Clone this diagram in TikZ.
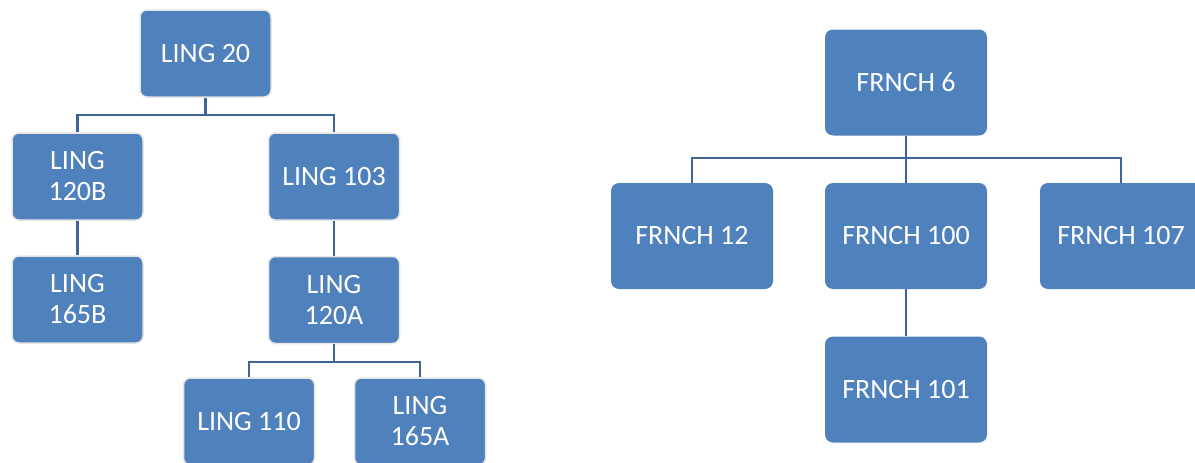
\documentclass[tikz,border=0pt]{standalone}
\usepackage{fontspec}
\setmainfont{Carlito}
\definecolor{boxblue}{RGB}{79,129,189}
\definecolor{linkblue}{RGB}{62,101,150}
\begin{document}
\begin{tikzpicture}[x=1pt,y=-1pt,
  lbox/.style={fill=boxblue, draw=gray!20, line width=1.5pt, rounded corners=7pt,
    minimum width=131pt, minimum height=87pt, text=white, align=center,
    font=\fontsize{28}{31}\selectfont, inner sep=0pt},
  rbox/.style={fill=boxblue, draw=none, rounded corners=8pt,
    minimum width=162pt, minimum height=106pt, text=white, align=center,
    font=\fontsize{28}{31}\selectfont, inner sep=0pt},
  link/.style={draw=linkblue, line width=2.6pt}]
\useasboundingbox (0,0) rectangle (1195,463);
\clip (0,0) rectangle (1195,463);
% left tree
\node[lbox] (l20)   at (205.5,53.5) {LING 20};
\node[lbox] (l120b) at (77.5,176.5) {LING\\120B};
\node[lbox] (l103)  at (334,176.5) {LING 103};
\node[lbox] (l165b) at (77.5,299.5) {LING\\165B};
\node[lbox] (l120a) at (334,300) {LING\\120A};
\node[lbox] (l110)  at (249,421.5) {LING 110};
\node[lbox] (l165a) at (420,421.5) {LING\\165A};
\coordinate (j1) at (205.5,115);
\coordinate (j2) at (334,362);
\draw[link] (l20.south) -- (j1);
\draw[link] (j1) -| (l120b.north);
\draw[link] (j1) -| (l103.north);
\draw[link] (l120b.south) -- (l165b.north);
\draw[link] (l103.south) -- (l120a.north);
\draw[link] (l120a.south) -- (j2);
\draw[link] (j2) -| (l110.north);
\draw[link] (j2) -| (l165a.north);
% right tree
\node[rbox] (f6)   at (906,82.5) {FRNCH 6};
\node[rbox] (f12)  at (692,236) {FRNCH 12};
\node[rbox] (f100) at (906,236) {FRNCH 100};
\node[rbox] (f107) at (1121,236) {FRNCH 107};
\node[rbox] (f101) at (906,389.5) {FRNCH 101};
\coordinate (j3) at (906,158);
\draw[link] (f6.south) -- (j3);
\draw[link] (j3) -| (f12.north);
\draw[link] (j3) -- (f100.north);
\draw[link] (j3) -| (f107.north);
\draw[link] (f100.south) -- (f101.north);
\end{tikzpicture}
\end{document}
